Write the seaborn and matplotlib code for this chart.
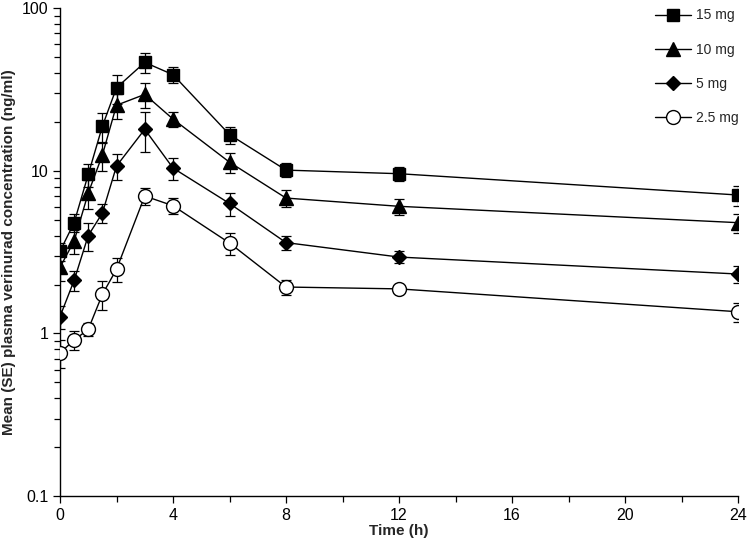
import pandas as pd
import matplotlib.pyplot as plt
import seaborn as sns
from matplotlib.ticker import LogLocator, NullFormatter, MultipleLocator

# Thời điểm lấy mẫu (giờ)
time_h = [0, 0.5, 1, 1.5, 2, 3, 4, 6, 8, 12, 24]

# Nồng độ trung bình (ng/ml) và sai số chuẩn cho từng liều
mean_15 = [3.2, 4.8, 9.5, 18.8, 32.4, 46.4, 39.0, 16.7, 10.1, 9.6, 7.1]
se_15 = [0.4, 0.6, 1.5, 4.0, 6.5, 6.5, 4.5, 2.0, 1.0, 1.0, 1.0]

mean_10 = [2.55, 3.7, 7.3, 12.5, 25.3, 29.5, 20.8, 11.3, 6.8, 6.05, 4.8]
se_10 = [0.45, 0.6, 1.5, 2.5, 4.5, 5.0, 2.3, 1.6, 0.8, 0.7, 0.65]

mean_5 = [1.27, 2.12, 4.0, 5.5, 10.7, 18.0, 10.4, 6.3, 3.62, 2.95, 2.32]
se_5 = [0.2, 0.3, 0.8, 0.75, 1.9, 5.0, 1.6, 1.0, 0.35, 0.25, 0.27]

mean_25 = [0.76, 0.91, 1.06, 1.74, 2.48, 7.0, 6.1, 3.6, 1.93, 1.88, 1.36]
se_25 = [0.15, 0.12, 0.1, 0.35, 0.42, 0.8, 0.7, 0.55, 0.2, 0.1, 0.19]

dose_labels = ["15 mg", "10 mg", "5 mg", "2.5 mg"]
x_ticks = [0, 4, 8, 12, 16, 20, 24]
y_ticks = [0.1, 1, 10, 100]
y_tick_labels = ["0.1", "1", "10", "100"]


def main():
    sns.set_theme(style="ticks")
    plt.rcParams["font.family"] = ["Liberation Sans", "DejaVu Sans"]

    fig = plt.figure(figsize=(7.5, 5.44), dpi=100)
    ax = fig.add_axes([0.08, 0.088, 0.904, 0.897])

    series = [
        (mean_15, se_15, "s", "black", 8.5),
        (mean_10, se_10, "^", "black", 9.5),
        (mean_5, se_5, "D", "black", 7.5),
        (mean_25, se_25, "o", "white", 10),
    ]

    for (means, ses, mk, face, ms), label in zip(series, dose_labels):
        df = pd.DataFrame({"time": time_h, "conc": means})
        ax.errorbar(time_h, means, yerr=ses, fmt="none", ecolor="black",
                    elinewidth=0.9, capsize=3.5, capthick=0.9, zorder=2)
        sns.lineplot(data=df, x="time", y="conc", ax=ax, color="black",
                     linewidth=1.0, marker=mk, markersize=ms,
                     markerfacecolor=face, markeredgecolor="black",
                     markeredgewidth=1.0, label=label, zorder=3)

    ax.set_yscale("log")
    ax.set_ylim(0.1, 100)
    ax.set_xlim(0, 24)
    ax.set_yticks(y_ticks, labels=y_tick_labels)
    ax.yaxis.set_minor_locator(LogLocator(base=10, subs=range(2, 10)))
    ax.yaxis.set_minor_formatter(NullFormatter())
    ax.set_xticks(x_ticks)
    ax.xaxis.set_minor_locator(MultipleLocator(2))

    ax.tick_params(axis="both", which="major", length=5, width=0.9,
                   labelsize=11.5, color="black", labelcolor="black")
    ax.tick_params(axis="both", which="minor", length=4, width=0.9, color="black")

    sns.despine(ax=ax)
    for sp in ["left", "bottom"]:
        ax.spines[sp].set_linewidth(1.0)
        ax.spines[sp].set_color("black")

    ax.set_xlabel("Time (h)", fontsize=11, fontweight="bold", labelpad=1)
    ax.set_ylabel("Mean (SE) plasma verinurad concentration (ng/ml)",
                  fontsize=11, fontweight="bold", labelpad=4)

    ax.legend(loc="upper right", bbox_to_anchor=(1.02, 1.025), frameon=False,
              fontsize=10, labelspacing=1.45, handlelength=2.6,
              handletextpad=0.4)

    plt.savefig("out.png", dpi=100)
    plt.close()


if __name__ == "__main__":
    main()
